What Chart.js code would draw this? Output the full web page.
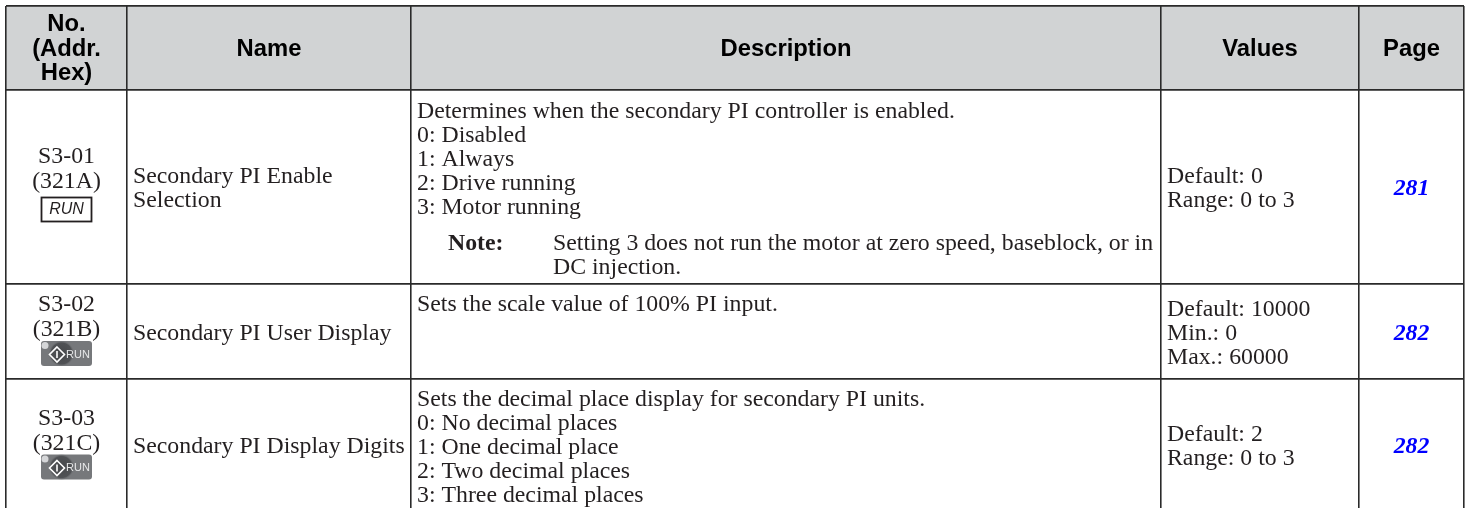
<!DOCTYPE html>
<html lang="en">
<head>
    <meta charset="UTF-8">
    <title>S3 parameters</title>
    <script src="https://cdn.jsdelivr.net/npm/chart.js"></script>
    <style>
        html, body { margin: 0; padding: 0; background: #fff; overflow: hidden; }
        #wrap { width: 1470px; height: 508px; }
    </style>
</head>
<body>
    <div id="wrap"><canvas id="table"></canvas></div>

    <script>
        // table grid, in page units
        // the last row runs off the bottom of the page, so its edge (511) has no line
        const colEdges = [6, 127, 411, 1161, 1359, 1464];
        const rowEdges = [6, 90, 284, 379, 511];
        const PAGE_BOTTOM = 508;

        const headers = ['No.\n(Addr.\nHex)', 'Name', 'Description', 'Values', 'Page'];
        const numbers = ['S3-01', 'S3-02', 'S3-03'];
        const addresses = ['(321A)', '(321B)', '(321C)'];
        const names = ['Secondary PI Enable\nSelection', 'Secondary PI User Display', 'Secondary PI Display Digits'];
        const descriptions = [
            'Determines when the secondary PI controller is enabled.\n0: Disabled\n1: Always\n2: Drive running\n3: Motor running',
            'Sets the scale value of 100% PI input.',
            'Sets the decimal place display for secondary PI units.\n0: No decimal places\n1: One decimal place\n2: Two decimal places\n3: Three decimal places'
        ];
        const noteLabel = 'Note:';
        const noteText = 'Setting 3 does not run the motor at zero speed, baseblock, or in\nDC injection.';
        const values = ['Default: 0\nRange: 0 to 3', 'Default: 10000\nMin.: 0\nMax.: 60000', 'Default: 2\nRange: 0 to 3'];
        const pages = ['281', '282', '282'];
        const badgeLabel = 'RUN';

        const SIZE = 23.8;
        const BODY = SIZE + 'px "Liberation Serif"';
        const HEAD = 'bold ' + SIZE + 'px "Liberation Sans"';
        const LINE = 24;
        const INK = '#231f20';
        const RULE = '#2a2a2a';

        function multiline(ctx, text, x, y, lh) {
            text.split('\n').forEach((t, i) => ctx.fillText(t, x, y + i * lh));
        }
        // block of lines centred on cy
        function centred(ctx, text, x, cy, lh) {
            const n = text.split('\n').length;
            multiline(ctx, text, x, cy - (n - 1) * lh / 2, lh);
        }

        function plainBadge(ctx, cx, cy) {
            ctx.strokeStyle = INK;
            ctx.lineWidth = 1.8;
            ctx.strokeRect(cx - 25, cy - 12, 50, 24);
            ctx.fillStyle = INK;
            ctx.font = 'italic 16px "Liberation Sans"';
            ctx.textAlign = 'center';
            ctx.fillText(badgeLabel, cx, cy + 0.5);
        }

        function greyBadge(ctx, cx, cy) {
            const w = 51, h = 25, x = cx - w / 2, y = cy - h / 2;
            ctx.fillStyle = '#76787b';
            ctx.beginPath();
            ctx.roundRect(x, y, w, h, 3);
            ctx.fill();
            // dark ball behind the diamond
            const g = ctx.createRadialGradient(cx - 5, cy, 1, cx - 5, cy, 13);
            g.addColorStop(0, '#47494c');
            g.addColorStop(0.8, '#505255');
            g.addColorStop(1, 'rgba(118,120,123,0)');
            ctx.fillStyle = g;
            ctx.beginPath();
            ctx.arc(cx - 5, cy, 13, 0, Math.PI * 2);
            ctx.fill();
            // lamp
            ctx.fillStyle = '#d5d6d8';
            ctx.beginPath();
            ctx.arc(cx - 21.5, cy - 8, 3.5, 0, Math.PI * 2);
            ctx.fill();
            // diamond
            const dx = cx - 9.5, dy = cy + 1;
            ctx.strokeStyle = '#fff';
            ctx.lineWidth = 1.6;
            ctx.beginPath();
            ctx.moveTo(dx, dy - 7.5);
            ctx.lineTo(dx + 7.5, dy);
            ctx.lineTo(dx, dy + 7.5);
            ctx.lineTo(dx - 7.5, dy);
            ctx.closePath();
            ctx.stroke();
            ctx.beginPath();
            ctx.moveTo(dx, dy - 3.5);
            ctx.lineTo(dx, dy + 3.5);
            ctx.stroke();
            ctx.fillStyle = '#e6e7e8';
            ctx.font = '11px "Liberation Sans"';
            ctx.textAlign = 'left';
            ctx.fillText(badgeLabel, cx - 0.5, cy + 1);
        }

        // small per-row corrections, the source page is not perfectly regular
        const noTextNudge = [-3.5, 0, 0];
        const descTopPad = [22, 21, 21];

        const tableText = {
            id: 'tableText',
            afterDraw(chart) {
                const ctx = chart.ctx;
                const X = v => chart.scales.x.getPixelForValue(v);
                const Y = v => chart.scales.y.getPixelForValue(v);
                const colMid = i => (X(colEdges[i]) + X(colEdges[i + 1])) / 2;
                const rowMid = i => (Y(rowEdges[i]) + Y(rowEdges[i + 1])) / 2;

                ctx.save();
                ctx.textBaseline = 'middle';

                // header row
                ctx.fillStyle = '#000';
                ctx.font = HEAD;
                ctx.textAlign = 'center';
                headers.forEach((h, i) => centred(ctx, h, colMid(i), rowMid(0) + 1, 24.5));

                numbers.forEach((n, i) => {
                    const r = i + 1;
                    const mid = rowMid(r);
                    const cy = mid + 2; // text sits a little under the cell centre

                    // No. column
                    const top = mid - 26.5 + noTextNudge[i];
                    ctx.fillStyle = INK;
                    ctx.font = BODY;
                    ctx.textAlign = 'center';
                    ctx.fillText(n, colMid(0), top);
                    ctx.fillText(addresses[i], colMid(0), top + 25);
                    if (i === 0) plainBadge(ctx, colMid(0), mid + 22.5);
                    else greyBadge(ctx, colMid(0), mid + 22);

                    // Name
                    ctx.fillStyle = INK;
                    ctx.font = BODY;
                    ctx.textAlign = 'left';
                    centred(ctx, names[i], X(colEdges[1]) + 6, cy, LINE);

                    // Description, top aligned
                    multiline(ctx, descriptions[i], X(colEdges[2]) + 6, Y(rowEdges[r]) + descTopPad[i], LINE);

                    // Values
                    centred(ctx, values[i], X(colEdges[3]) + 6, cy, LINE);

                    // Page
                    ctx.fillStyle = '#0000ff';
                    ctx.font = 'italic bold ' + SIZE + 'px "Liberation Serif"';
                    ctx.textAlign = 'center';
                    ctx.fillText(pages[i], colMid(4), cy);
                });

                // note in first row
                ctx.fillStyle = INK;
                ctx.textAlign = 'left';
                ctx.font = 'bold ' + SIZE + 'px "Liberation Serif"';
                ctx.fillText(noteLabel, X(colEdges[2]) + 37, Y(rowEdges[1]) + 154);
                ctx.font = BODY;
                multiline(ctx, noteText, X(colEdges[2]) + 142, Y(rowEdges[1]) + 154, LINE);

                ctx.restore();
            }
        };

        new Chart(document.getElementById('table'), {
            type: 'line',
            data: {
                datasets: [{
                    // header band
                    data: [{ x: colEdges[0], y: rowEdges[0] }, { x: colEdges[colEdges.length - 1], y: rowEdges[0] }],
                    borderWidth: 0,
                    pointRadius: 0,
                    backgroundColor: '#d1d3d4',
                    fill: { value: rowEdges[1] }
                }]
            },
            options: {
                responsive: true,
                maintainAspectRatio: false,
                animation: false,
                layout: { padding: { left: 6, right: 6, top: 6, bottom: 0 } },
                plugins: { legend: { display: false }, tooltip: { enabled: false } },
                scales: {
                    x: {
                        type: 'linear',
                        min: colEdges[0],
                        max: colEdges[colEdges.length - 1],
                        afterBuildTicks: s => { s.ticks = colEdges.map(v => ({ value: v })); },
                        ticks: { display: false },
                        border: { display: false },
                        grid: { color: RULE, lineWidth: 1.6, drawTicks: false, z: 1 }
                    },
                    y: {
                        type: 'linear',
                        reverse: true,
                        min: rowEdges[0],
                        max: PAGE_BOTTOM,
                        afterBuildTicks: s => { s.ticks = rowEdges.filter(v => v <= PAGE_BOTTOM).map(v => ({ value: v })); },
                        ticks: { display: false },
                        border: { display: false },
                        grid: { color: RULE, lineWidth: 1.8, drawTicks: false, z: 1 }
                    }
                }
            },
            plugins: [tableText]
        });
    </script>
</body>
</html>
